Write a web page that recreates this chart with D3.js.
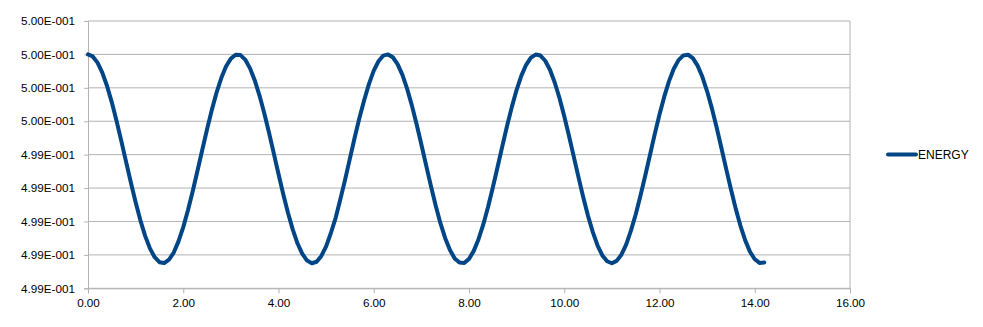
<!DOCTYPE html>
<html>
<head>
<meta charset="utf-8">
<script src="https://cdn.jsdelivr.net/npm/d3@7"></script>
<style>
  body { margin: 0; background: #fff; }
  text { font-family: "Liberation Sans", Arial, sans-serif; fill: #000; }
</style>
</head>
<body>
<div id="chart"></div>
<script>
const seriesName = "ENERGY";
const time = [
  0.0, 0.1, 0.2, 0.3, 0.4, 0.5, 0.6, 0.7, 0.8, 0.9,
  1.0, 1.1, 1.2, 1.3, 1.4, 1.5, 1.6, 1.7, 1.8, 1.9,
  2.0, 2.1, 2.2, 2.3, 2.4, 2.5, 2.6, 2.7, 2.8, 2.9,
  3.0, 3.1, 3.2, 3.3, 3.4, 3.5, 3.6, 3.7, 3.8, 3.9,
  4.0, 4.1, 4.2, 4.3, 4.4, 4.5, 4.6, 4.7, 4.8, 4.9,
  5.0, 5.1, 5.2, 5.3, 5.4, 5.5, 5.6, 5.7, 5.8, 5.9,
  6.0, 6.1, 6.2, 6.3, 6.4, 6.5, 6.6, 6.7, 6.8, 6.9,
  7.0, 7.1, 7.2, 7.3, 7.4, 7.5, 7.6, 7.7, 7.8, 7.9,
  8.0, 8.1, 8.2, 8.3, 8.4, 8.5, 8.6, 8.7, 8.8, 8.9,
  9.0, 9.1, 9.2, 9.3, 9.4, 9.5, 9.6, 9.7, 9.8, 9.9,
  10.0, 10.1, 10.2, 10.3, 10.4, 10.5, 10.6, 10.7, 10.8, 10.9,
  11.0, 11.1, 11.2, 11.3, 11.4, 11.5, 11.6, 11.7, 11.8, 11.9,
  12.0, 12.1, 12.2, 12.3, 12.4, 12.5, 12.6, 12.7, 12.8, 12.9,
  13.0, 13.1, 13.2, 13.3, 13.4, 13.5, 13.6, 13.7, 13.8, 13.9,
  14.0, 14.1, 14.2
];
const energy = [
  0.500000, 0.499988, 0.499951, 0.499891, 0.499811, 0.499713, 0.499601, 0.499481, 0.499357, 0.499233,
  0.499115, 0.499007, 0.498914, 0.498839, 0.498786, 0.498756, 0.498751, 0.498771, 0.498814, 0.498881,
  0.498966, 0.499069, 0.499183, 0.499305, 0.499429, 0.499552, 0.499668, 0.499772, 0.499860, 0.499929,
  0.499975, 0.499998, 0.499996, 0.499969, 0.499918, 0.499846, 0.499755, 0.499649, 0.499532, 0.499409,
  0.499284, 0.499163, 0.499051, 0.498951, 0.498868, 0.498806, 0.498766, 0.498750, 0.498759, 0.498794,
  0.498851, 0.498931, 0.499022, 0.499135, 0.499252, 0.499378, 0.499503, 0.499621, 0.499727, 0.499824,
  0.499903, 0.499959, 0.499993, 0.500000, 0.499983, 0.499942, 0.499879, 0.499795, 0.499695, 0.499582,
  0.499461, 0.499336, 0.499213, 0.499096, 0.498990, 0.498900, 0.498829, 0.498779, 0.498754, 0.498752,
  0.498776, 0.498824, 0.498894, 0.498982, 0.499087, 0.499203, 0.499326, 0.499451, 0.499573, 0.499686,
  0.499788, 0.499873, 0.499938, 0.499981, 0.499999, 0.499993, 0.499962, 0.499908, 0.499832, 0.499739,
  0.499630, 0.499512, 0.499388, 0.499264, 0.499144, 0.499033, 0.498936, 0.498856, 0.498797, 0.498762,
  0.498750, 0.498764, 0.498801, 0.498862, 0.498945, 0.499042, 0.499154, 0.499274, 0.499398, 0.499523,
  0.499640, 0.499747, 0.499840, 0.499914, 0.499966, 0.499994, 0.499998, 0.499978, 0.499933, 0.499866,
  0.499779, 0.499677, 0.499562, 0.499440, 0.499315, 0.499193, 0.499077, 0.498974, 0.498887, 0.498819,
  0.498774, 0.498752, 0.498755
];
const xTicks = [0, 2, 4, 6, 8, 10, 12, 14, 16];
const yTicks = [0.4986, 0.4988, 0.4990, 0.4992, 0.4994, 0.4996, 0.4998, 0.5000, 0.5002];

const WIDTH = 983;
const HEIGHT = 327;
const plot = { left: 88, right: 850, top: 21, bottom: 288.3 };
const GRID = "#b3b3b3";
const LINE = "#004586";

const svg = d3.select("#chart")
  .append("svg")
  .attr("width", WIDTH)
  .attr("height", HEIGHT);

const x = d3.scaleLinear().domain([0, 16]).range([plot.left, plot.right]);
const y = d3.scaleLinear().domain([0.4986, 0.5002]).range([plot.bottom, plot.top]);

// excel-ish scientific labels, e.g. 5.00E-001
const sci = v => {
  const [m, e] = v.toExponential(2).split("e");
  const n = Math.abs(+e);
  return m + "E" + (+e < 0 ? "-" : "+") + String(n).padStart(3, "0");
};

// horizontal gridlines
svg.append("g")
  .selectAll("line")
  .data(yTicks)
  .join("line")
  .attr("x1", plot.left)
  .attr("x2", plot.right)
  .attr("y1", d => y(d))
  .attr("y2", d => y(d))
  .attr("stroke", GRID)
  .attr("stroke-width", 1);

// right border
svg.append("line")
  .attr("x1", plot.right).attr("x2", plot.right)
  .attr("y1", plot.top).attr("y2", plot.bottom)
  .attr("stroke", GRID);

const yAxis = svg.append("g")
  .attr("transform", `translate(${plot.left},0)`)
  .call(d3.axisLeft(y).tickValues(yTicks).tickFormat(sci).tickSize(4).tickPadding(9));

const xAxis = svg.append("g")
  .attr("transform", `translate(0,${plot.bottom})`)
  .call(d3.axisBottom(x).tickValues(xTicks).tickFormat(d3.format(".2f")).tickSize(5).tickPadding(5));

[yAxis, xAxis].forEach(g => {
  g.select(".domain").attr("stroke", GRID);
  g.selectAll(".tick line").attr("stroke", GRID);
  g.selectAll(".tick text")
    .attr("fill", "#000")
    .style("font-family", '"Liberation Sans", Arial, sans-serif')
    .style("font-size", "11.7px");
});

const points = time.map((t, i) => [t, energy[i]]);

svg.append("path")
  .datum(points)
  .attr("fill", "none")
  .attr("stroke", LINE)
  .attr("stroke-width", 4)
  .attr("stroke-linejoin", "round")
  .attr("stroke-linecap", "round")
  .attr("d", d3.line().x(d => x(d[0])).y(d => y(d[1])));

// legend
const legend = svg.append("g").attr("transform", "translate(888,154.5)");
legend.append("line")
  .attr("x1", 0).attr("x2", 28)
  .attr("stroke", LINE)
  .attr("stroke-width", 4)
  .attr("stroke-linecap", "round");
legend.append("text")
  .attr("x", 30)
  .attr("dy", "0.35em")
  .style("font-size", "12px")
  .text(seriesName);
</script>
</body>
</html>
